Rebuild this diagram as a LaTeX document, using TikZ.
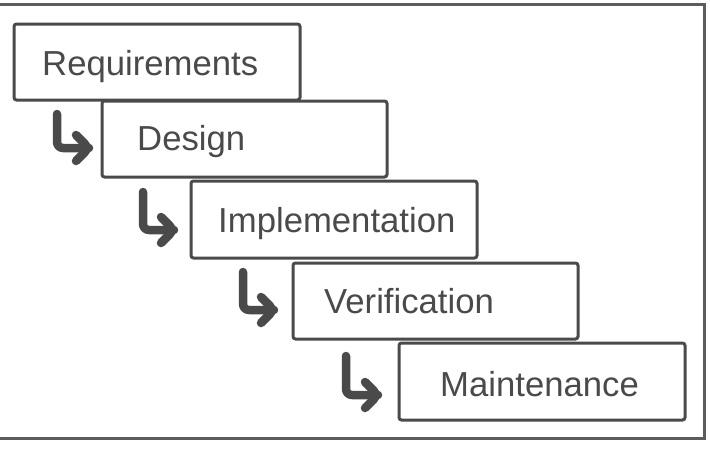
\documentclass[tikz,border=0pt]{standalone}
\usepackage{fontspec}
\setmainfont{Liberation Sans}
\definecolor{edge}{HTML}{4A4A4A}
\definecolor{txt}{HTML}{4A4A4A}
\begin{document}
\begin{tikzpicture}[x=1pt,y=-1pt,
  stage/.style={draw=edge, line width=3pt, fill=white, rounded corners=2.5pt},
  label/.style={anchor=base west, inner sep=0pt, text=txt, font=\fontsize{34.7}{38}\selectfont},
  hookarrow/.style={draw=edge, line width=8.5pt, line cap=round, line join=round, rounded corners=6pt},
  frame/.style={draw=edge!90, line width=3pt}]
\useasboundingbox (0,0) rectangle (710,448);
\draw[frame] (-5,4) rectangle (704,438);
% boxes
\draw[stage] (14,24) rectangle (300,100);
\node[label] (t1) at (42,75) {Requirements};
\draw[stage] (102,101) rectangle (387,177);
\node[label] (t2) at (137,150) {Design};
\draw[stage] (191,181) rectangle (477,258);
\node[label] (t3) at (218,232) {Implementation};
\draw[stage] (293,263) rectangle (578,339);
\node[label] (t4) at (324,313) {Verification};
\draw[stage] (399,343) rectangle (685,420);
\node[label] (t5) at (440,396) {Maintenance};
% bent arrows
\foreach \x/\y/\l/\r in {57/114/34/32, 143/192/38/31, 243/272/38/31, 346/356/39/32}{
  \draw[hookarrow] (\x,\y) -- (\x,\y+\l) -- (\x+\r,\y+\l);
  \draw[hookarrow] (\x+\r-13,\y+\l-13) -- (\x+\r,\y+\l) -- (\x+\r-13,\y+\l+13);
}
\end{tikzpicture}
\end{document}
